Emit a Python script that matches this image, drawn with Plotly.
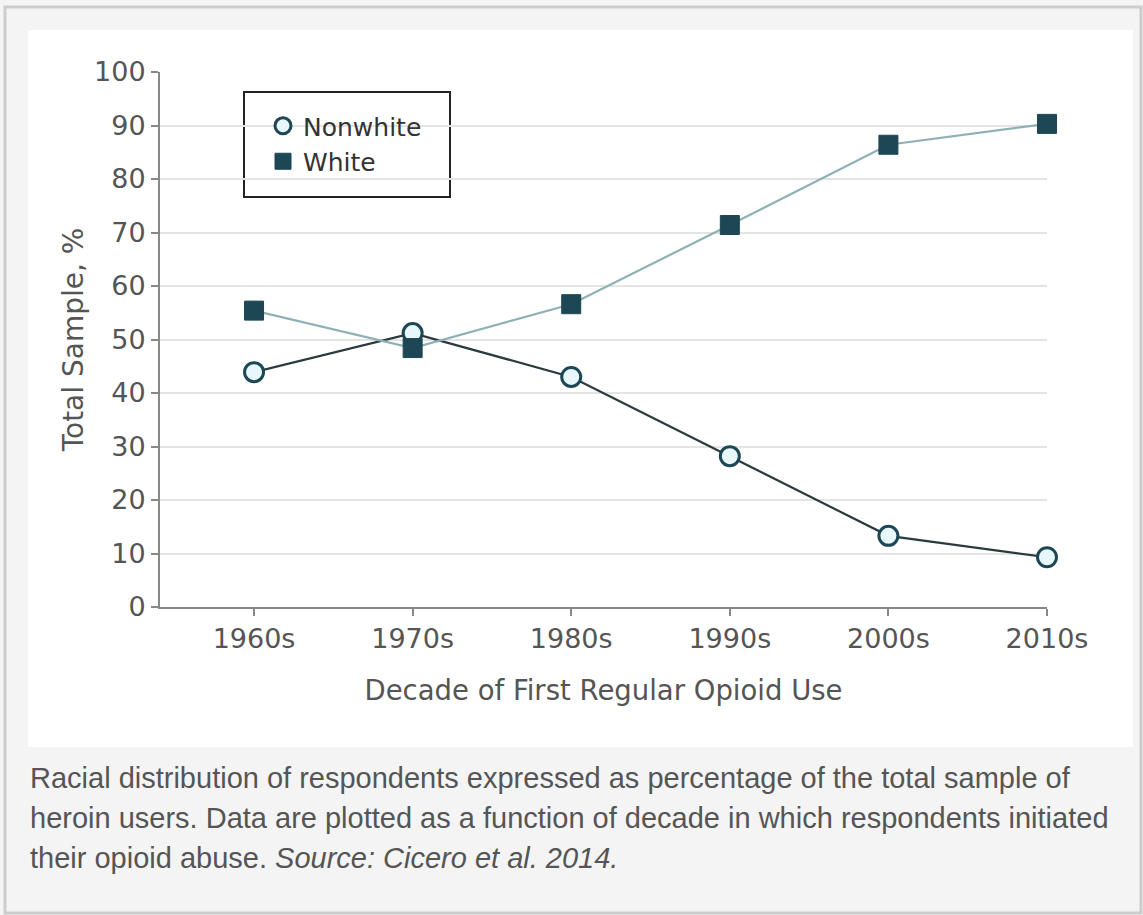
import plotly.graph_objects as go

decades = ["1960s", "1970s", "1980s", "1990s", "2000s", "2010s"]
nonwhite = [43.9, 51.2, 43.0, 28.2, 13.3, 9.3]
white = [55.4, 48.4, 56.6, 71.4, 86.4, 90.3]
y_ticks = [0, 10, 20, 30, 40, 50, 60, 70, 80, 90, 100]

caption_lines = [
    "Racial distribution of respondents expressed as percentage of the total sample of",
    "heroin users. Data are plotted as a function of decade in which respondents initiated",
    "their opioid abuse. <i>Source: Cicero et al. 2014.</i>",
]

W, H = 1143, 915
PL, PR, PT, PB = 160, 1047, 72, 607  # plot area in pixels


def px(x):
    return (x - PL) / (PR - PL)


def py(y):
    return (PB - y) / (PB - PT)


xpos = list(range(len(decades)))
chart_font = "DejaVu Sans, sans-serif"
dark = "#1d4754"

nw_marker = dict(symbol="circle", size=19, color="#e8f8fa", line=dict(color=dark, width=3))
w_marker = dict(symbol="square", size=19, color=dark, line=dict(color=dark, width=1))

fig = go.Figure()
fig.add_trace(go.Scatter(
    x=xpos, y=nonwhite, name="Nonwhite", mode="lines+markers",
    line=dict(color="#2b3a3e", width=2.2), marker=nw_marker,
    cliponaxis=False, showlegend=False,
))
fig.add_trace(go.Scatter(
    x=xpos, y=white, name="White", mode="lines+markers",
    line=dict(color="#8fb0b6", width=2.2), marker=w_marker,
    cliponaxis=False, showlegend=False,
))
# legend entries (markers only, as in the original figure)
fig.add_trace(go.Scatter(x=[None], y=[None], name="Nonwhite", mode="markers",
                         marker=nw_marker, showlegend=True))
fig.add_trace(go.Scatter(x=[None], y=[None], name="White", mode="markers",
                         marker=w_marker, showlegend=True))

shapes = [
    # outer border
    dict(type="rect", xref="paper", yref="paper",
         x0=px(5), x1=px(1141), y0=py(7), y1=py(913),
         line=dict(color="#cccccc", width=3), fillcolor="#f4f4f4", layer="below"),
    # white chart panel
    dict(type="rect", xref="paper", yref="paper",
         x0=px(28), x1=px(1133), y0=py(30), y1=py(747),
         line=dict(width=0), fillcolor="#ffffff", layer="below"),
    # legend box
    dict(type="rect", xref="paper", yref="paper",
         x0=px(244), x1=px(450), y0=py(92), y1=py(197),
         line=dict(color="#222222", width=2), fillcolor="#ffffff", layer="below"),
]

annotations = []
for i, line in enumerate(caption_lines):
    annotations.append(dict(
        text=line, xref="paper", yref="paper", x=px(28), y=py(778 + 40 * i),
        xanchor="left", yanchor="middle", showarrow=False,
        font=dict(family="Liberation Sans, Arial, sans-serif", size=29, color="#555555"),
    ))

fig.update_layout(
    width=W, height=H,
    margin=dict(l=PL, r=W - PR, t=PT, b=H - PB, pad=0),
    paper_bgcolor="#f4f4f4", plot_bgcolor="rgba(0,0,0,0)",
    font=dict(family=chart_font, size=27, color="#555555"),
    shapes=shapes, annotations=annotations,
    showlegend=True,
    legend=dict(x=px(263), y=py(103), xanchor="left", yanchor="top",
                bgcolor="rgba(0,0,0,0)", borderwidth=0,
                font=dict(family=chart_font, size=25, color="#333333"),
                itemsizing="trace", tracegroupgap=0),
    xaxis=dict(range=[-0.593, 5], tickvals=xpos, ticktext=decades,
               showgrid=False, zeroline=False, showline=True,
               linecolor="#888888", linewidth=2,
               ticks="outside", ticklen=7, tickcolor="#888888", tickwidth=1.5,
               title=dict(text="Decade of First Regular Opioid Use", standoff=27,
                          font=dict(size=27.5, color="#555555"))),
    yaxis=dict(range=[0, 100], tickvals=y_ticks, showgrid=True,
               gridcolor="#e4e4e4", gridwidth=2, zeroline=False,
               showline=True, linecolor="#888888", linewidth=2,
               ticks="outside", ticklen=7, tickcolor="#888888", tickwidth=1.5,
               title=dict(text="Total Sample, %", standoff=2,
                          font=dict(size=28, color="#555555"))),
)

fig.write_html(
    "out.html",
    config={"displayModeBar": False},
    post_script="document.body.style.margin='0';document.body.style.overflow='hidden';",
)
